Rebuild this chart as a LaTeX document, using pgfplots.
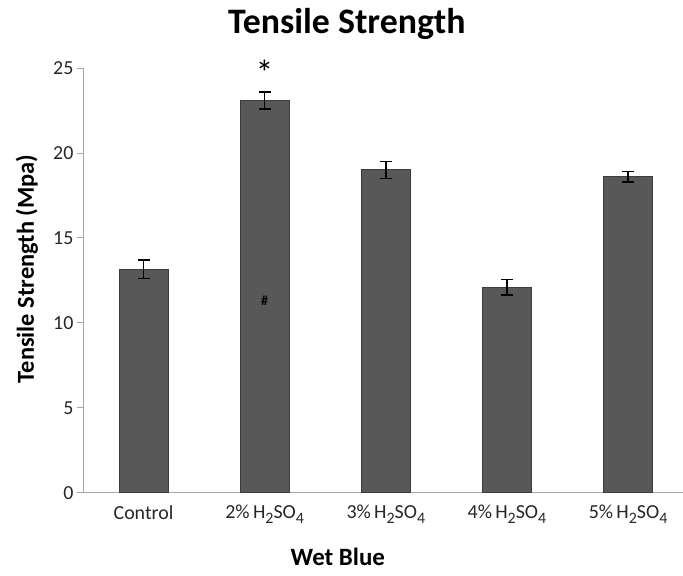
\documentclass[border=0pt]{standalone}
\usepackage{fontspec}
\setmainfont{Carlito}
\usepackage{pgfplots}
\pgfplotsset{compat=1.18}

\definecolor{barfill}{HTML}{585858}
\definecolor{baredge}{HTML}{3C3C3C}
\definecolor{axisgray}{HTML}{A6A6A6}

% subscripts set large and low, as in the category names
\newcommand{\sub}[1]{\raisebox{-0.5ex}{\fontsize{16}{16}\selectfont #1}}
\newcommand{\acid}[1]{#1\%\,H\sub{2}SO\sub{4}}

\begin{document}
\begin{tikzpicture}
\begin{axis}[
  scale only axis,
  width=600bp, height=425bp,
  xmin=-0.5, xmax=4.45,
  ymin=0, ymax=25,
  ytick={0,5,...,25},
  xtick={0,1,2,3,4},
  xticklabels={Control,\acid{2},\acid{3},\acid{4},\acid{5}},
  extra x ticks={0.5,1.5,2.5,3.5},
  extra x tick labels={},
  extra x tick style={major tick length=6bp, tick style={axisgray, line width=0.8bp}, tick pos=left, xtick align=outside},
  major x tick style={draw=none},
  axis x line*=bottom,
  axis y line*=left,
  axis line style={axisgray, line width=0.8bp, -},
  y tick style={axisgray, line width=0.8bp},
  ytick align=outside,
  major tick length=6bp,
  tick label style={font=\fontsize{20}{22}\selectfont, text=black!85},
  /pgf/number format/assume math mode=true,
  xticklabel style={yshift=-3bp},
  clip=false,
  ybar,
  bar width=49bp,
]
\addplot[
  draw=baredge, line width=0.8bp, fill=barfill,
  error bars/.cd, y dir=both, y explicit,
  error bar style={black, line width=1.6bp},
  error mark options={rotate=90, mark size=6bp, line width=1.6bp, black},
] coordinates {
  (0,13.15) +- (0,0.55)
  (1,23.1)  +- (0,0.5)
  (2,19.0)  +- (0,0.5)
  (3,12.1)  +- (0,0.45)
  (4,18.6)  +- (0,0.3)
};
\node[font=\fontsize{36}{38}\selectfont] at (axis cs:1,24.7) {*};
\node[font=\bfseries\fontsize{14}{15}\selectfont, text=black] at (axis cs:1,11.3) {\#};
\coordinate (bl) at (rel axis cs:0,0);
\coordinate (tr) at (rel axis cs:1,1);
\end{axis}
\node[font=\bfseries\fontsize{36}{40}\selectfont] at ([shift={(264bp,44bp)}]bl |- tr) {Tensile Strength};
\node[font=\bfseries\fontsize{25}{28}\selectfont] at ([shift={(255bp,-64bp)}]bl) {Wet Blue};
\node[font=\bfseries\fontsize{24.5}{28}\selectfont, rotate=90] at ([shift={(-56bp,224bp)}]bl) {Tensile Strength (Mpa)};
\path ([shift={(-83bp,-83bp)}]bl) rectangle ([shift={(0bp,68bp)}]tr);
\end{tikzpicture}
\end{document}
